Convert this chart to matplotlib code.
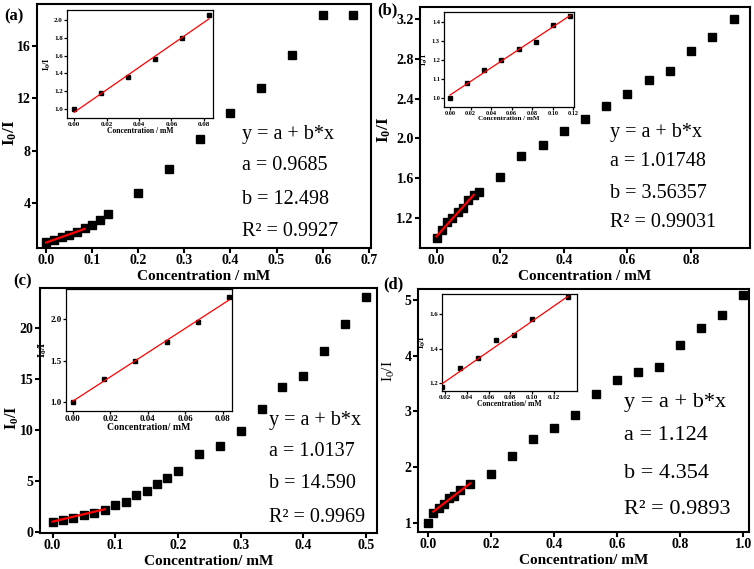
import numpy as np
import matplotlib
matplotlib.use("Agg")
import matplotlib.pyplot as plt
from matplotlib.ticker import FormatStrFormatter

plt.rcParams['font.family'] = ['Liberation Serif', 'DejaVu Serif']
plt.rcParams['mathtext.default'] = 'regular'

W, H = 754, 569

# ---- data ----
xa = [0, 0.0167, 0.0333, 0.05, 0.0667, 0.0833, 0.1, 0.1167, 0.1333, 0.2, 0.2667,
      0.3333, 0.4, 0.4667, 0.5333, 0.6, 0.6667]
ya = [1.01, 1.19, 1.37, 1.55, 1.78, 2.05, 2.34, 2.69, 3.17, 4.78, 6.58,
      8.88, 10.89, 12.77, 15.29, 18.34, 18.34]
xa_in = [0, 0.0167, 0.0333, 0.05, 0.0667, 0.0833]
ya_in = [1.0, 1.18, 1.36, 1.56, 1.79, 2.05]
fit_a = (0.9685, 12.498, 0.9927)

xb = [0, 0.0167, 0.0333, 0.05, 0.0667, 0.0833, 0.1, 0.1167, 0.1333, 0.2, 0.2667,
      0.3333, 0.4, 0.4667, 0.5333, 0.6, 0.6667, 0.7333, 0.8, 0.8667, 0.9333]
yb = [1.0, 1.076, 1.157, 1.2, 1.26, 1.297, 1.384, 1.43, 1.465, 1.615, 1.82,
      1.93, 2.074, 2.198, 2.322, 2.446, 2.584, 2.68, 2.875, 3.02, 3.197]
xb_in = [0, 0.0167, 0.0333, 0.05, 0.0667, 0.0833, 0.1, 0.1167]
yb_in = [1.0, 1.08, 1.15, 1.2, 1.26, 1.295, 1.385, 1.43]
fit_b = (1.01748, 3.56357, 0.99031)

xc = [0, 0.0167, 0.0333, 0.05, 0.0667, 0.0833, 0.1, 0.1167, 0.1333, 0.15, 0.1667,
      0.1833, 0.2, 0.2333, 0.2667, 0.3, 0.3333, 0.3667, 0.4, 0.4333, 0.4667, 0.5]
yc = [0.97, 1.2, 1.4, 1.66, 1.86, 2.18, 2.64, 2.96, 3.58, 4.0, 4.72,
      5.28, 5.93, 7.59, 8.4, 9.87, 12.02, 14.23, 15.31, 17.72, 20.42, 23.03]
xc_in = [0, 0.0167, 0.0333, 0.05, 0.0667, 0.0833]
yc_in = [1.0, 1.28, 1.5, 1.72, 1.96, 2.26]
fit_c = (1.0137, 14.590, 0.9969)

xd = [0, 0.0167, 0.0333, 0.05, 0.0667, 0.0833, 0.1, 0.1333, 0.2, 0.2667, 0.3333,
      0.4, 0.4667, 0.5333, 0.6, 0.6667, 0.7333, 0.8, 0.8667, 0.9333, 1.0]
yd = [1.0, 1.18, 1.27, 1.33, 1.45, 1.48, 1.58, 1.69, 1.88, 2.2, 2.505,
      2.7, 2.94, 3.31, 3.57, 3.7, 3.79, 4.19, 4.49, 4.74, 5.1]
xd_in = [0.0167, 0.0333, 0.05, 0.0667, 0.0833, 0.1, 0.1333]
yd_in = [1.18, 1.29, 1.345, 1.45, 1.48, 1.57, 1.70]
fit_d = (1.124, 4.354, 0.9893)


def box(l, t, r, b):
    # pixel box -> figure fraction rect
    return [l / W, 1 - b / H, (r - l) / W, (b - t) / H]


def style(ax, lw, fs, tl):
    for s in ax.spines.values():
        s.set_linewidth(lw)
    ax.tick_params(direction='out', width=lw, length=tl, labelsize=fs, pad=1,
                   top=False, right=False)
    for lab in ax.get_xticklabels() + ax.get_yticklabels():
        lab.set_fontweight('bold')


fig = plt.figure(figsize=(W / 100, H / 100), dpi=100)

panels = [
    dict(name='(a)', lab=(4, 16), main=(37, 4, 371, 248), ins=(67, 10, 213, 118),
         x=xa, y=ya, xi=xa_in, yi=ya_in, fit=fit_a, fit_x=(0, 0.0833),
         xlim=(-0.02, 0.705), ylim=(0.55, 19.2), xt=np.arange(0, 0.71, 0.1),
         yt=[4, 8, 12, 16], xf='%.1f', yf='%d',
         ixlim=(-0.0045, 0.0857), iylim=(0.904, 2.107), ixt=np.arange(0, 0.081, 0.02),
         iyt=np.arange(1.0, 2.01, 0.2), ixf='%.2f', iyf='%.1f', ifs=5,
         xlabel='Concentration / mM', ixlabel='Concentration / mM',
         ylw='bold', yls=12.5, ylx=19, yly=133, tx=242, ty=(135, 166, 199, 232), tfs=14.5,
         r2='0.9927', ab=('0.9685', '12.498')),
    dict(name='(b)', lab=(377, 10), main=(420, 7, 750, 248), ins=(444, 12, 574, 107),
         x=xb, y=yb, xi=xb_in, yi=yb_in, fit=fit_b, fit_x=(0, 0.1167),
         xlim=(-0.052, 0.985), ylim=(0.9, 3.32), xt=np.arange(0, 0.81, 0.2),
         yt=np.arange(1.2, 3.21, 0.4), xf='%.1f', yf='%.1f',
         ixlim=(-0.0058, 0.1206), iylim=(0.955, 1.452), ixt=np.arange(0, 0.121, 0.02),
         iyt=np.arange(1.0, 1.41, 0.1), ixf='%.2f', iyf='%.1f', ifs=4.5,
         xlabel='Concentration / mM', ixlabel='Concentration / mM',
         ylw='bold', yls=12.5, ylx=393, yly=130, tx=610, ty=(132, 162, 193, 223), tfs=14.5,
         r2='0.99031', ab=('1.01748', '3.56357')),
    dict(name='(c)', lab=(13, 281), main=(40, 288, 377, 533), ins=(66, 289, 232, 411),
         x=xc, y=yc, xi=xc_in, yi=yc_in, fit=fit_c, fit_x=(0, 0.0833),
         xlim=(-0.02, 0.5175), ylim=(-0.1, 23.9), xt=np.arange(0, 0.51, 0.1),
         yt=[0, 5, 10, 15, 20], xf='%.1f', yf='%d',
         ixlim=(-0.0036, 0.0848), iylim=(0.896, 2.36), ixt=np.arange(0, 0.081, 0.02),
         iyt=[1.0, 1.5, 2.0], ixf='%.2f', iyf='%.1f', ifs=6.5,
         xlabel='Concentration/ mM', ixlabel='Concentration/ mM',
         ylw='bold', yls=11.5, ylx=21, yly=418, tx=269, ty=(420, 452, 484, 517), tfs=14.5,
         r2='0.9969', ab=('1.0137', '14.590')),
    dict(name='(d)', lab=(383, 284), main=(418, 289, 749, 532), ins=(442, 294, 577, 391),
         x=xd, y=yd, xi=xd_in, yi=yd_in, fit=fit_d, fit_x=(0.0167, 0.1333),
         xlim=(-0.032, 1.018), ylim=(0.83, 5.2), xt=np.arange(0, 1.01, 0.2),
         yt=[1, 2, 3, 4, 5], xf='%.1f', yf='%d',
         ixlim=(0.0169, 0.1415), iylim=(1.156, 1.717), ixt=np.arange(0.02, 0.121, 0.02),
         iyt=[1.2, 1.4, 1.6], ixf='%.2f', iyf='%.1f', ifs=5,
         xlabel='Concentration/ mM', ixlabel='Concentration/ mM',
         ylw='normal', yls=11, ylx=397, yly=371, tx=624, ty=(402, 436, 473, 509), tfs=16,
         r2='0.9893', ab=('1.124', '4.354')),
]

for p in panels:
    ax = fig.add_axes(box(*p['main']))
    a, b, r2 = p['fit']
    ax.plot(p['x'], p['y'], 's', color='black', ms=6, ls='none', zorder=2)
    fx = np.array(p['fit_x'])
    ax.plot(fx, a + b * fx, color='red', lw=1.6, zorder=3)
    ax.set_xlim(*p['xlim']); ax.set_ylim(*p['ylim'])
    ax.set_xticks(p['xt']); ax.set_yticks(p['yt'])
    ax.xaxis.set_major_formatter(FormatStrFormatter(p['xf']))
    ax.yaxis.set_major_formatter(FormatStrFormatter(p['yf']))
    style(ax, 1.5, 10, 3.5)
    ax.set_xlabel(p['xlabel'], fontsize=11, fontweight='bold', labelpad=2)
    ax.set_ylabel('I$_0$/I', fontsize=p['yls'], fontweight=p['ylw'])
    l, t, r, bt = p['main']
    ax.yaxis.set_label_coords((p['ylx'] - l) / (r - l), (bt - p['yly']) / (bt - t))

    # inset: fit line drawn over the data range only
    ai = fig.add_axes(box(*p['ins']))
    ai.plot(p['xi'], p['yi'], 's', color='black', ms=2.6, ls='none', zorder=2)
    ix = np.array([min(p['xi']), max(p['xi'])])
    ai.plot(ix, a + b * ix, color='red', lw=0.9, zorder=3)
    ai.set_xlim(*p['ixlim']); ai.set_ylim(*p['iylim'])
    ai.set_xticks(p['ixt']); ai.set_yticks(p['iyt'])
    ai.xaxis.set_major_formatter(FormatStrFormatter(p['ixf']))
    ai.yaxis.set_major_formatter(FormatStrFormatter(p['iyf']))
    style(ai, 0.9, p['ifs'], 2)
    ai.set_xlabel(p['ixlabel'], fontsize=p['ifs'] + 0.5, fontweight='bold', labelpad=0)
    ai.set_ylabel('I$_0$/I', fontsize=p['ifs'] + 1, fontweight='bold', labelpad=1)

    # fit text
    lines = ['y = a + b*x', 'a = ' + p['ab'][0], 'b = ' + p['ab'][1], 'R² = ' + p['r2']]
    for s, yy in zip(lines, p['ty']):
        fig.text(p['tx'] / W, 1 - yy / H, s, fontsize=p['tfs'], va='center', ha='left')

    fig.text(p['lab'][0] / W, 1 - p['lab'][1] / H, p['name'], fontsize=12,
             fontweight='bold', va='center', ha='left')

fig.savefig('out.png', dpi=100)
